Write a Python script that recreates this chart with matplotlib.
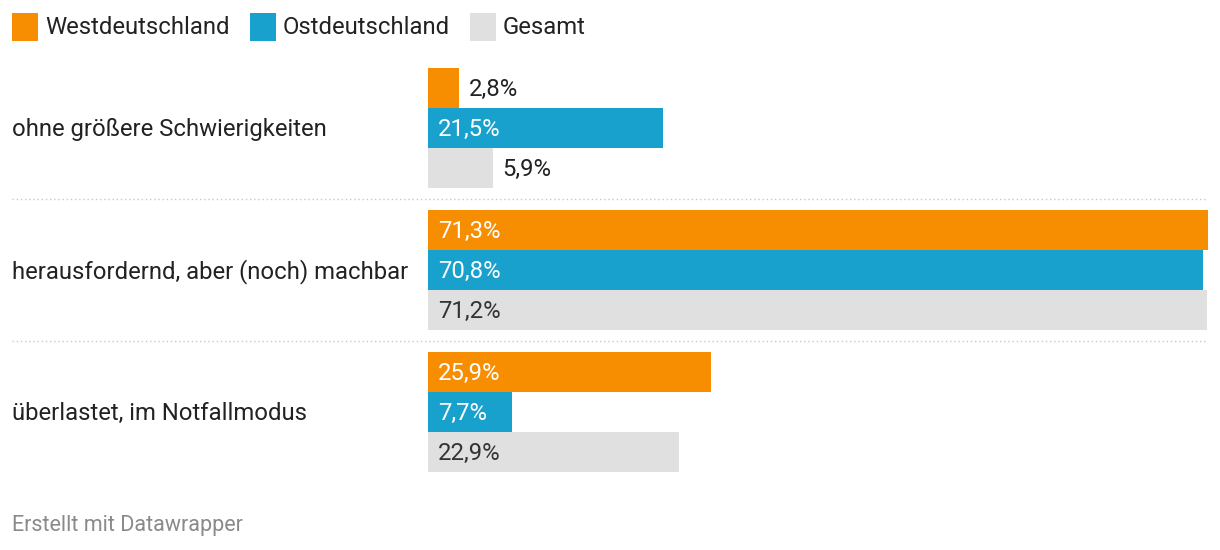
import matplotlib.pyplot as plt
from matplotlib.lines import Line2D
from matplotlib.patches import Rectangle

plt.rcParams['font.family'] = ['Roboto', 'DejaVu Sans']

categories = ['ohne größere Schwierigkeiten',
              'herausfordernd, aber (noch) machbar',
              'überlastet, im Notfallmodus']
series = ['Westdeutschland', 'Ostdeutschland', 'Gesamt']
west = [2.8, 71.3, 25.9]
ost = [21.5, 70.8, 7.7]
gesamt = [5.9, 71.2, 22.9]

colors = ['#F78D00', '#18A1CD', '#E0E0E0']
label_colors = ['white', 'white', '#333333']
text_col = '#222222'

W, H = 1220, 550
fig = plt.figure(figsize=(W / 100, H / 100), dpi=100)

# axes in pixel layout
x0, x1 = 428, 1208
y0, y1 = 68, 472
ax = fig.add_axes([x0 / W, 1 - y1 / H, (x1 - x0) / W, (y1 - y0) / H])
ax.set_xlim(0, max(west))
ax.set_ylim(y1 - y0, 0)
ax.axis('off')

bar_h = 40
group_step = 142
fs = 17.2
px = (x1 - x0) / max(west)  # pixels per percent
dy = 1.5  # small downward nudge for text

for s, vals in enumerate([west, ost, gesamt]):
    for g, v in enumerate(vals):
        y = g * group_step + s * bar_h
        ax.barh(y, v, height=bar_h, align='edge', color=colors[s], linewidth=0)
        lab = f'{v:.1f}%'.replace('.', ',')
        if v * px > 75:
            ax.text(10 / px, y + bar_h / 2 + dy, lab, color=label_colors[s],
                    fontsize=fs, va='center', ha='left')
        else:
            ax.text(v + 10 / px, y + bar_h / 2 + dy, lab, color=text_col,
                    fontsize=fs, va='center', ha='left')

# category labels
for g, c in enumerate(categories):
    yc = y0 + g * group_step + 1.5 * bar_h + dy
    fig.text(12 / W, 1 - yc / H, c, fontsize=fs, color=text_col,
             va='center', ha='left')

# dotted separators
for g in range(1, len(categories)):
    ys = y0 + g * group_step - 11
    fig.add_artist(Line2D([12 / W, x1 / W], [1 - ys / H, 1 - ys / H],
                          transform=fig.transFigure, color='#c8c8c8',
                          linewidth=1, linestyle=(0, (1, 2))))

# legend
leg_x = [12, 250, 470]
for i, name in enumerate(series):
    fig.add_artist(Rectangle((leg_x[i] / W, 1 - 41 / H), 26 / W, 28 / H,
                             transform=fig.transFigure, color=colors[i],
                             linewidth=0))
    fig.text((leg_x[i] + 33) / W, 1 - 28 / H, name, fontsize=fs,
             color=text_col, va='center', ha='left')

fig.text(12 / W, 1 - 526 / H, 'Erstellt mit Datawrapper', fontsize=15.5,
         color='#8a8a8a', va='center', ha='left')

fig.savefig('out.png', dpi=100)
